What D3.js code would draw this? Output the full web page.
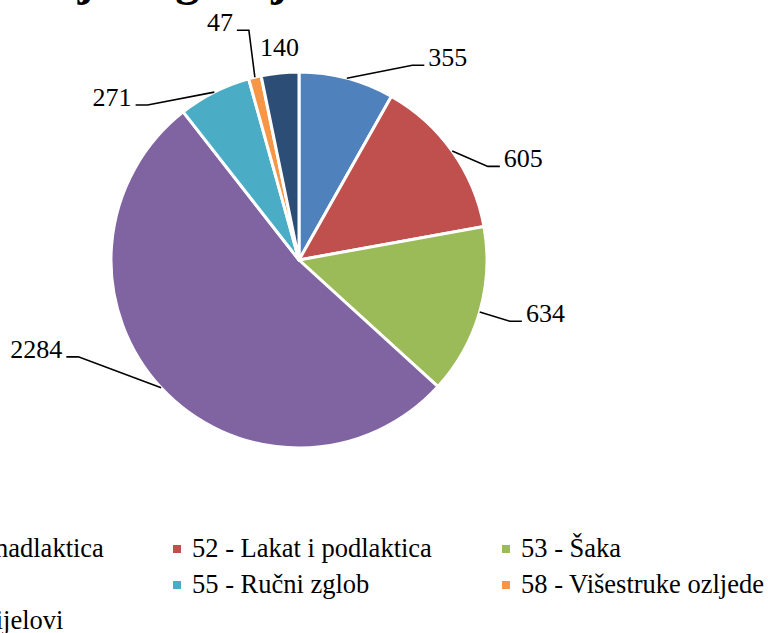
<!DOCTYPE html>
<html>
<head>
<meta charset="utf-8">
<script src="https://cdn.jsdelivr.net/npm/d3@7"></script>
<style>
  #chart text { font-family: "Liberation Serif"; }
</style>
</head>
<body style="margin:0">
<svg id="chart" width="768" height="633" style="position:absolute;left:0;top:0"></svg>
<script>
// ---- data ----
const title = "Ozljede gornjih ekstremiteta";
const categories = [
  "51 - Rame i nadlaktica",
  "52 - Lakat i podlaktica",
  "53 - Šaka",
  "54 - Prsti",
  "55 - Ručni zglob",
  "58 - Višestruke ozljede",
  "59 - Ostali dijelovi"
];
const values = [355, 605, 634, 2284, 271, 47, 140];
const colors = ["#4F81BD", "#C0504D", "#9BBB59", "#8064A2", "#4BACC6", "#F79646", "#2C4D75"];

// ---- layout (not data) ----
const FONT = "Liberation Serif";
const cx = 299, cy = 260, R = 188;
// label text position offsets relative to the slice's outer-arc midpoint, anchor side, leader flag
const labelLayout = [
  { dx: 81.5, dy: -12, anchor: "start", leader: true },
  { dx: 51.6, dy: 16.3, anchor: "start", leader: true },
  { dx: 46.2, dy: 10.4, anchor: "start", leader: true },
  { dx: -98.8, dy: -30, anchor: "end", leader: true },
  { dx: -82.7, dy: 13.9, anchor: "end", leader: true },
  { dx: -22, dy: -46, anchor: "end", leader: true },
  { dx: -20, dy: -17, anchor: "start", leader: false }
];

const svg = d3.select("#chart");

// title (mostly above the visible area)
svg.append("text")
  .attr("x", 300).attr("y", -5)
  .attr("text-anchor", "middle")
  .attr("font-family", FONT)
  .attr("font-size", 48).attr("font-weight", "bold")
  .text(title);

const pie = d3.pie().sort(null).value(d => d)(values);
const arc = d3.arc().innerRadius(0).outerRadius(R);
const color = d3.scaleOrdinal().domain(categories).range(colors);

const g = svg.append("g").attr("transform", `translate(${cx},${cy})`);
g.selectAll("path.slice")
  .data(pie)
  .join("path")
  .attr("class", "slice")
  .attr("d", arc)
  .attr("fill", (d, i) => color(categories[i]))
  .attr("stroke", "#fff")
  .attr("stroke-width", 3)
  .attr("stroke-linejoin", "round");

// data labels with leader lines
pie.forEach((d, i) => {
  const a = (d.startAngle + d.endAngle) / 2;
  const px = R * Math.sin(a), py = -R * Math.cos(a);
  const L = labelLayout[i];
  const tx = px + L.dx, ty = py + L.dy;
  if (L.leader) {
    const sgn = L.anchor === "start" ? -1 : 1;
    const x1 = tx + sgn * 4, x2 = tx + sgn * 16;
    g.append("polyline")
      .attr("points", `${px},${py} ${x2},${ty - 1} ${x1},${ty - 1}`)
      .attr("fill", "none").attr("stroke", "#000").attr("stroke-width", 1.6);
  }
  g.append("text")
    .attr("x", tx).attr("y", ty)
    .attr("text-anchor", L.anchor)
    .attr("font-family", FONT)
    .attr("font-size", 26)
    .text(values[i]);
});

// legend: 3 columns, row-major
const colX = [-136, 192, 521];
const rowY = [557, 593, 629];
const leg = svg.append("g");
categories.forEach((c, i) => {
  const col = i % 3, row = Math.floor(i / 3);
  const x = colX[col], y = rowY[row];
  leg.append("rect")
    .attr("x", x - 19).attr("y", y - 12)
    .attr("width", 8).attr("height", 8)
    .attr("fill", color(c));
  leg.append("text")
    .attr("x", x).attr("y", y)
    .attr("font-family", FONT)
    .attr("font-size", 26.5)
    .text(c);
});
</script>
</body>
</html>
